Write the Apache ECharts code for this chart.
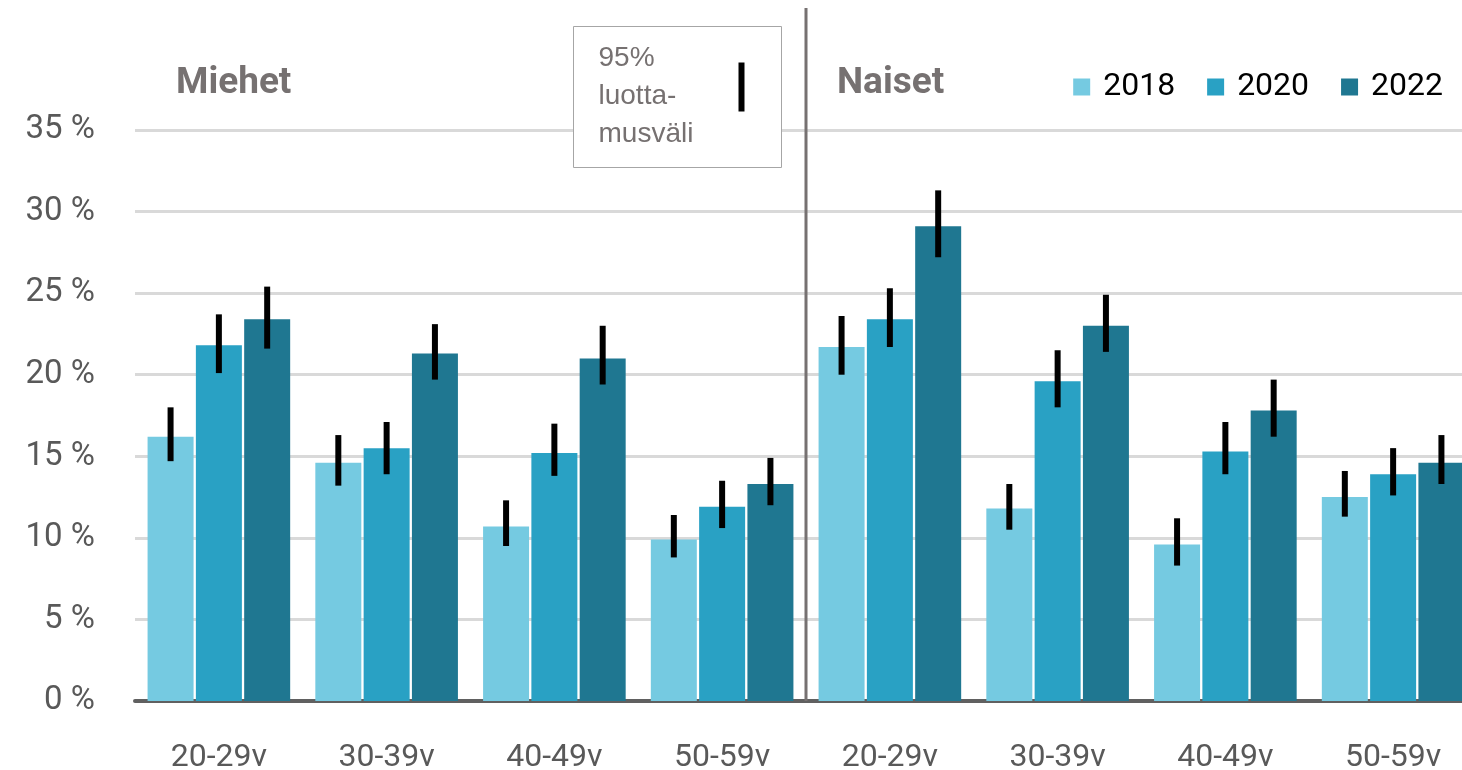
<!DOCTYPE html>
<html>
<head>
<meta charset="utf-8">
<script src="https://cdn.jsdelivr.net/npm/echarts@6/dist/echarts.min.js"></script>
<style>
  html, body { margin: 0; padding: 0; background: #fff; }
  #box { width: 1462px; height: 770px; }
</style>
</head>
<body>
<div id="box"></div>
<script>
var mychart = echarts.init(document.getElementById("box"));

// ikäryhmät: ensin miehet, sitten naiset
var ageGroups = ['20-29v', '30-39v', '40-49v', '50-59v'];
var categories = ageGroups.concat(ageGroups);
var years = ['2018', '2020', '2022'];
var colors = ['#75cae1', '#29a1c4', '#1f7791'];

var val2018 = [16.2, 14.6, 10.7, 9.9, 21.7, 11.8, 9.6, 12.5];
var val2020 = [21.8, 15.5, 15.2, 11.9, 23.4, 19.6, 15.3, 13.9];
var val2022 = [23.4, 21.3, 21.0, 13.3, 29.1, 23.0, 17.8, 14.6];

// 95% luottamusväli, ala- ja yläraja
var low2018 = [14.7, 13.2, 9.5, 8.8, 20.0, 10.5, 8.3, 11.3];
var high2018 = [18.0, 16.3, 12.3, 11.4, 23.6, 13.3, 11.2, 14.1];
var low2020 = [20.1, 13.9, 13.8, 10.6, 21.7, 18.0, 13.9, 12.6];
var high2020 = [23.7, 17.1, 17.0, 13.5, 25.3, 21.5, 17.1, 15.5];
var low2022 = [21.6, 19.7, 19.4, 12.0, 27.2, 21.4, 16.2, 13.3];
var high2022 = [25.4, 23.1, 23.0, 14.9, 31.3, 24.9, 19.7, 16.3];

var yTicks = { min: 0, max: 35, interval: 5 };

var barWidth = 46;
var barGapPx = 2.3;

var values = [val2018, val2020, val2022];
var lows = [low2018, low2020, low2022];
var highs = [high2018, high2020, high2022];

var errData = [];
for (var s = 0; s < 3; s++) {
    for (var i = 0; i < categories.length; i++) {
        errData.push([i, lows[s][i], highs[s][i], s]);
    }
}

var font = 'Roboto, "Noto Sans", sans-serif';

var series = years.map(function (y, s) {
    return {
        name: y,
        type: 'bar',
        barWidth: barWidth,
        barGap: '5%',
        itemStyle: { color: colors[s] },
        data: values[s]
    };
});

series.push({
    name: 'ci',
    type: 'custom',
    z: 10,
    clip: false,
    encode: { x: 0, y: [1, 2] },
    renderItem: function (params, api) {
        var idx = api.value(0);
        var s = api.value(3);
        var p1 = api.coord([idx, api.value(1)]);
        var p2 = api.coord([idx, api.value(2)]);
        var x = p1[0] + (s - 1) * (barWidth + barGapPx);
        return {
            type: 'line',
            shape: { x1: x, y1: p1[1], x2: x, y2: p2[1] },
            style: { stroke: '#000', lineWidth: 6 }
        };
    },
    data: errData
});

var option = {
    animation: false,
    textStyle: { fontFamily: font },
    grid: {
        left: 135,
        width: 1342,
        top: 130,
        bottom: 69,
        outerBoundsMode: 'none'
    },
    title: [{
        text: 'Miehet',
        left: 171,
        top: 60,
        textStyle: { fontSize: 37, fontWeight: 'bold', color: '#767171', fontFamily: font }
    }, {
        text: 'Naiset',
        left: 832,
        top: 60,
        textStyle: { fontSize: 37, fontWeight: 'bold', color: '#767171', fontFamily: font }
    }],
    legend: {
        data: years,
        right: 14,
        top: 66,
        itemWidth: 17,
        itemHeight: 17,
        itemGap: 32,
        icon: 'rect',
        textStyle: { fontSize: 32, color: '#000', fontFamily: font, padding: [0, 0, 0, 8] }
    },
    xAxis: {
        type: 'category',
        data: categories,
        axisLine: { lineStyle: { color: '#606060', width: 4 } },
        axisTick: { show: false },
        axisLabel: { fontSize: 32, color: '#595959', margin: 41 },
        splitLine: { show: false }
    },
    yAxis: {
        type: 'value',
        min: yTicks.min,
        max: yTicks.max,
        interval: yTicks.interval,
        axisLine: { show: false },
        axisTick: { show: false },
        axisLabel: { fontSize: 33, color: '#595959', margin: 40, padding: [6, 0, 0, 0], formatter: '{value} %' },
        splitLine: { lineStyle: { color: '#d9d9d9', width: 3 } }
    },
    series: series
};

mychart.setOption(option);

// pystyviiva miesten ja naisten välissä + selitelaatikko
var xa = mychart.convertToPixel({ xAxisIndex: 0 }, 3);
var xb = mychart.convertToPixel({ xAxisIndex: 0 }, 4);
var xDiv = (xa + xb) / 2;
var yZero = mychart.convertToPixel({ yAxisIndex: 0 }, 0);

mychart.setOption({
    graphic: [{
        type: 'line',
        z: 20,
        shape: { x1: xDiv, y1: 8, x2: xDiv, y2: yZero },
        style: { stroke: '#767171', lineWidth: 3 }
    }, {
        type: 'group',
        left: 573,
        top: 26,
        z: 20,
        children: [{
            type: 'rect',
            shape: { x: 0, y: 0, width: 208, height: 141 },
            style: { fill: '#fff', stroke: '#a6a6a6', lineWidth: 1 }
        }, {
            type: 'text',
            x: 25,
            y: 13,
            style: {
                text: '95%\nluotta-\nmusväli',
                font: '28px "Liberation Sans", Arial, sans-serif',
                fill: '#767171',
                lineHeight: 38
            }
        }, {
            type: 'line',
            shape: { x1: 168, y1: 36, x2: 168, y2: 85 },
            style: { stroke: '#000', lineWidth: 6 }
        }]
    }]
});
</script>
</body>
</html>
